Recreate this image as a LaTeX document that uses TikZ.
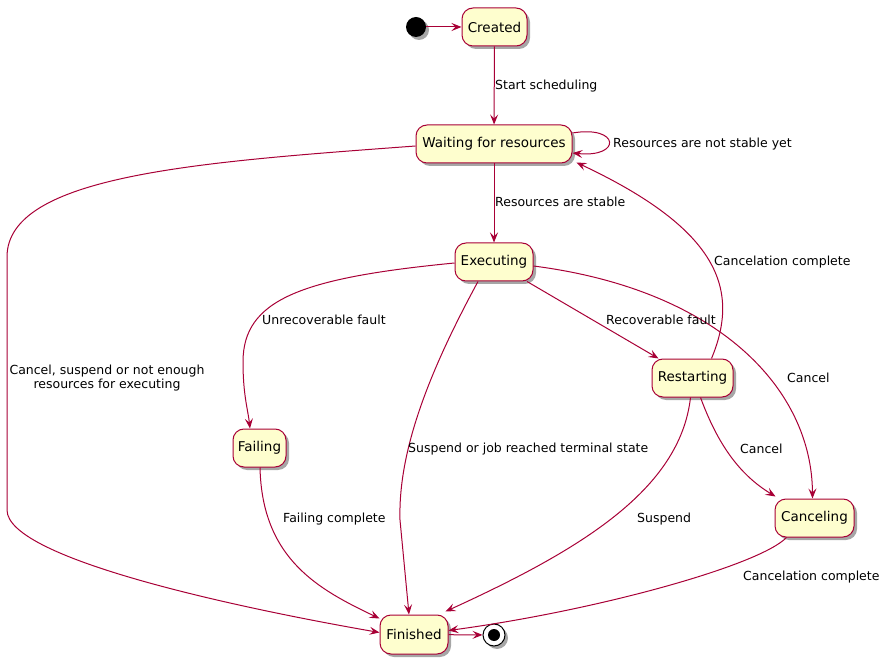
\documentclass[tikz,border=0pt]{standalone}
\usepackage{fontspec}
\setmainfont{DejaVu Sans}
\usetikzlibrary{arrows.meta,shadows}
\definecolor{pumlred}{HTML}{A80036}
\definecolor{pumlfill}{HTML}{FEFECE}
\tikzset{
  pshadow/.style={drop shadow={shadow xshift=3pt, shadow yshift=-3pt, fill=black, opacity=0.35}},
  statebox/.style={draw=pumlred, fill=pumlfill, line width=1pt, rounded corners=11pt,
    inner sep=0pt, minimum height=38pt, font=\fontsize{13.5}{16}\selectfont, pshadow},
  conn/.style={draw=pumlred, line width=1pt, -{Stealth[length=10pt,width=8pt,inset=4pt]}},
  lbl/.style={font=\fontsize{12.5}{15}\selectfont, inner sep=0pt, anchor=west},
}
\begin{document}
\begin{tikzpicture}[x=1pt,y=-1pt]
\useasboundingbox (0,0) rectangle (889,668);
% states
\node[circle, fill=black, minimum size=20pt, inner sep=0pt, pshadow] (start) at (416,27) {};
\node[statebox, minimum width=65pt] (created) at (494.5,27) {Created};
\node[statebox, minimum width=156pt] (wait) at (494,144) {Waiting for resources};
\node[statebox, minimum width=78pt] (exec) at (494,262) {Executing};
\node[statebox, minimum width=81pt] (restart) at (692.5,378) {Restarting};
\node[statebox, minimum width=53pt] (fail) at (259.5,448) {Failing};
\node[statebox, minimum width=79pt] (cancel) at (814.5,518) {Canceling};
\node[statebox, minimum width=68pt, minimum height=39pt] (fin) at (414,634.5) {Finished};
\node[circle, draw=black, line width=1pt, fill=white, minimum size=22pt, inner sep=0pt, pshadow] (end) at (494,635) {};
\node[circle, fill=black, minimum size=12pt, inner sep=0pt] (endin) at (end.center) {};
% connectors
\draw[conn] (start) -- (created);
\draw[conn] (created) -- (wait);
\draw[conn] ([yshift=11pt]wait.east) .. controls (620,125) and (622,158) .. ([yshift=-9pt]wait.east);
\draw[conn] (wait) -- (exec);
\draw[conn] ([yshift=-2pt]wait.west) .. controls (200,162) and (7,175) .. (7,257) -- (7,510)
  .. controls (7,560) and (250,610) .. ([yshift=2pt]fin.west);
\draw[conn] ([yshift=-1pt]exec.west) .. controls (300,278) and (243,300) .. (243,362)
  .. controls (243,395) and (248,410) .. ([xshift=-9.5pt]fail.north);
\draw[conn] ([xshift=-16pt]exec.south) .. controls (430,370) and (398,450) .. (400,520) -- ([xshift=-5pt]fin.north);
\draw[conn] ([xshift=33pt]exec.south) -- ([xshift=-34pt]restart.north);
\draw[conn] ([yshift=-4pt]exec.east) .. controls (720,290) and (812,390) .. ([xshift=-2pt]cancel.north);
\draw[conn] ([xshift=19pt]restart.north) .. controls (740,290) and (720,230) .. ([xshift=4pt,yshift=1pt]wait.south east);
\draw[conn] ([xshift=8pt]restart.south) .. controls (718,445) and (740,475) .. ([xshift=-39pt,yshift=2pt]cancel.north);
\draw[conn] ([xshift=-2pt]restart.south) .. controls (680,490) and (580,550) .. ([xshift=-3pt,yshift=3pt]fin.north east);
\draw[conn] ([xshift=0.5pt]fail.south) .. controls (262,560) and (320,590) .. ([yshift=-4pt]fin.north west);
\draw[conn] ([xshift=-28pt]cancel.south) .. controls (760,565) and (600,610) .. ([yshift=4pt]fin.east);
\draw[conn] (fin) -- (end);
% labels
\node[lbl] (l1) at (495,86) {Start scheduling};
\node[lbl] (l2) at (613,144) {Resources are not stable yet};
\node[lbl] (l3) at (495,202) {Resources are stable};
\node[lbl] (l4) at (714,262) {Cancelation complete};
\node[lbl] (l5) at (262,320) {Unrecoverable fault};
\node[lbl] (l6) at (606,320) {Recoverable fault};
\node[font=\fontsize{12.5}{14.5}\selectfont, align=center, inner sep=0pt] (l7) at (107,378) {Cancel, suspend or not enough\\resources for executing};
\node[lbl] (l8) at (787,378) {Cancel};
\node[lbl] (l9) at (408,449) {Suspend or job reached terminal state};
\node[lbl] (l10) at (740,449) {Cancel};
\node[lbl] (l11) at (283,519) {Failing complete};
\node[lbl] (l12) at (637,519) {Suspend};
\node[lbl] (l13) at (743,577) {Cancelation complete};
\end{tikzpicture}
\end{document}
